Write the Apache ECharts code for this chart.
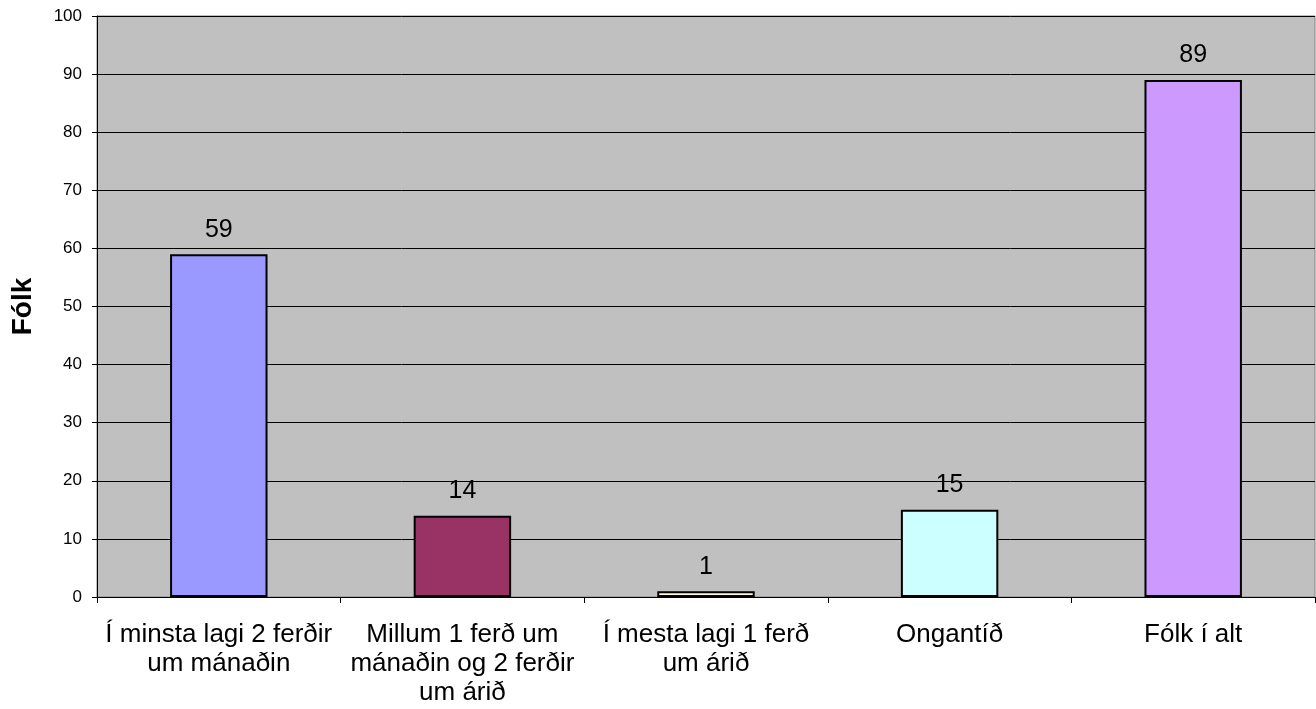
<!DOCTYPE html>
<html>
<head>
<meta charset="utf-8">
<script src="https://cdn.jsdelivr.net/npm/echarts@6/dist/echarts.min.js"></script>
<style>
  html, body { margin: 0; padding: 0; background: #ffffff; }
  #chart { width: 1316px; height: 709px; }
</style>
</head>
<body>
<div id="chart"></div>
<script>
// Travel frequency categories and number of people in each
const categories = [
  'Í minsta lagi 2 ferðir\num mánaðin',
  'Millum 1 ferð um\nmánaðin og 2 ferðir\num árið',
  'Í mesta lagi 1 ferð\num árið',
  'Ongantíð',
  'Fólk í alt'
];
const values = [59, 14, 1, 15, 89];
const barColors = ['#9999FF', '#993366', '#FFFFCC', '#CCFFFF', '#CC99FF'];
const yTicks = { min: 0, max: 100, interval: 10 };
const yAxisTitle = 'Fólk';

const font = 'Liberation Sans, Arial, sans-serif';
const chart = echarts.init(document.getElementById('chart'), null, { renderer: 'canvas' });

chart.setOption({
  animation: false,
  grid: {
    left: 97, right: 1, top: 16, bottom: 112,
    outerBoundsMode: 'none',
    containLabel: false,
    show: true,
    backgroundColor: '#C0C0C0',
    borderColor: '#808080',
    borderWidth: 1
  },
  xAxis: {
    type: 'category',
    data: categories,
    axisLine: { lineStyle: { color: '#000000', width: 1 } },
    axisTick: { show: true, alignWithLabel: false, length: 6, lineStyle: { color: '#000000' } },
    axisLabel: {
      color: '#000000', fontFamily: font, fontSize: 26, lineHeight: 29,
      margin: 23, interval: 0
    },
    splitLine: { show: false }
  },
  yAxis: {
    type: 'value',
    min: yTicks.min, max: yTicks.max, interval: yTicks.interval,
    name: yAxisTitle,
    nameLocation: 'middle',
    nameGap: 60,
    nameTextStyle: { color: '#000000', fontFamily: font, fontSize: 28, fontWeight: 'bold' },
    axisLine: { show: true, lineStyle: { color: '#000000', width: 1 } },
    axisTick: { show: true, length: 5, lineStyle: { color: '#000000' } },
    axisLabel: { color: '#000000', fontFamily: font, fontSize: 17, margin: 15 },
    splitLine: { show: true, lineStyle: { color: '#000000', width: 1 } }
  },
  series: [{
    type: 'bar',
    barWidth: '40%',
    data: values.map((v, i) => ({
      value: v,
      itemStyle: { color: barColors[i], borderColor: '#000000', borderWidth: 2 }
    })),
    label: {
      show: true, position: 'top', distance: 12,
      color: '#000000', fontFamily: font, fontSize: 25
    }
  }]
});
</script>
</body>
</html>
